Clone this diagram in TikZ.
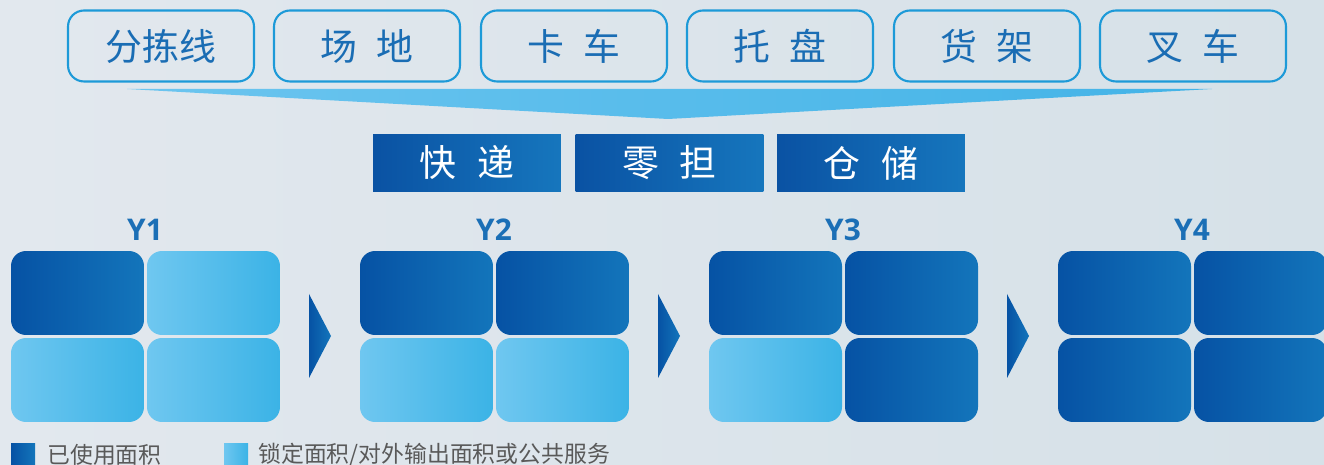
\documentclass[tikz,border=0pt]{standalone}
\usepackage{fontspec}
\newfontfamily\cjk{Noto Sans CJK SC}
\newfontfamily\ylabelfont{Open Sans}
\newcommand\topfont{\cjk\fontsize{21pt}{21pt}\selectfont\spaceskip=0.5em\relax}
\newcommand\midfont{\cjk\fontsize{21pt}{21pt}\selectfont\spaceskip=0.55em\relax}

\definecolor{bgA}{HTML}{E2E8EE}
\definecolor{bgB}{HTML}{D6E1E8}
\definecolor{topline}{HTML}{1D9AD8}
\definecolor{toptext}{HTML}{1A6DB4}
\definecolor{funnelA}{HTML}{6CC5EF}
\definecolor{funnelB}{HTML}{43B3E7}
\definecolor{midA}{HTML}{0A52A3}
\definecolor{midB}{HTML}{1676BD}
\definecolor{darkA}{HTML}{0652A4}
\definecolor{darkB}{HTML}{1375BB}
\definecolor{lightA}{HTML}{6FC7F0}
\definecolor{lightB}{HTML}{3BB3E6}
\definecolor{ylab}{HTML}{1B6FB6}
\definecolor{legendgray}{HTML}{595959}

\tikzset{
  topbox/.style={rectangle, rounded corners=0.32cm, draw=topline, line width=1.2pt,
    minimum width=3.72cm, minimum height=1.42cm, inner sep=0pt, text=toptext,
    font=\topfont},
  midbox/.style={rectangle, left color=midA, right color=midB, inner sep=0pt,
    minimum width=3.76cm, minimum height=1.16cm, text=white,
    font=\midfont},
  usedcell/.style={rectangle, rounded corners=0.3cm, left color=darkA, right color=darkB,
    minimum width=2.66cm, minimum height=1.68cm, inner sep=0pt},
  lockedcell/.style={rectangle, rounded corners=0.3cm, left color=lightA, right color=lightB,
    minimum width=2.66cm, minimum height=1.68cm, inner sep=0pt},
  ylabel/.style={text=ylab, inner sep=0pt, font=\ylabelfont\bfseries\fontsize{17pt}{17pt}\selectfont},
  legendtext/.style={anchor=west, text=legendgray, inner sep=0pt,
    font=\cjk\fontsize{13pt}{13pt}\selectfont},
}

\begin{document}
\begin{tikzpicture}[x=0.02cm, y=-0.02cm]
    \useasboundingbox (0,0) rectangle (1324,465);
    \shade[left color=bgA, right color=bgB] (0,0) rectangle (1324,465);

    % resources
    \node[topbox] (sorting)  at (161,46)  {分拣线};
    \node[topbox] (site)     at (367,46)  {场 地};
    \node[topbox] (truck)    at (574,46)  {卡 车};
    \node[topbox] (pallet)   at (780,46)  {托 盘};
    \node[topbox] (shelf)    at (987,46)  {货 架};
    \node[topbox] (forklift) at (1193,46) {叉 车};

    \shade[left color=funnelA, right color=funnelB] (127,89) -- (1212,89) -- (668,119) -- cycle;

    % business lines
    \node[midbox] (express) at (467,163)   {快 递};
    \node[midbox] (ltl)     at (669.5,163) {零 担};
    \node[midbox] (storage) at (871,163)   {仓 储};

    % Y1
    \node[ylabel] (y1) at (145,230) {Y1};
    \node[usedcell]   (c1a) at (77.5,293)  {};
    \node[lockedcell] (c1b) at (213.5,293) {};
    \node[lockedcell] (c1c) at (77.5,380)  {};
    \node[lockedcell] (c1d) at (213.5,380) {};
    \shade[left color=darkA, right color=darkB] (309,294) -- (331,336) -- (309,378) -- cycle;

    % Y2
    \node[ylabel] (y2) at (494,230) {Y2};
    \node[usedcell]   (c2a) at (426.5,293) {};
    \node[usedcell]   (c2b) at (562.5,293) {};
    \node[lockedcell] (c2c) at (426.5,380) {};
    \node[lockedcell] (c2d) at (562.5,380) {};
    \shade[left color=darkA, right color=darkB] (658,294) -- (680,336) -- (658,378) -- cycle;

    % Y3
    \node[ylabel] (y3) at (843,230) {Y3};
    \node[usedcell]   (c3a) at (775.5,293) {};
    \node[usedcell]   (c3b) at (911.5,293) {};
    \node[lockedcell] (c3c) at (775.5,380) {};
    \node[usedcell]   (c3d) at (911.5,380) {};
    \shade[left color=darkA, right color=darkB] (1007,294) -- (1029,336) -- (1007,378) -- cycle;

    % Y4
    \node[ylabel] (y4) at (1192,230) {Y4};
    \node[usedcell] (c4a) at (1124.5,293) {};
    \node[usedcell] (c4b) at (1260.5,293) {};
    \node[usedcell] (c4c) at (1124.5,380) {};
    \node[usedcell] (c4d) at (1260.5,380) {};

    % legend
    \shade[left color=darkA, right color=darkB] (11,443) rectangle (35,465);
    \node[legendtext] (usedkey) at (47,455) {已使用面积};
    \shade[left color=lightA, right color=lightB] (224,443) rectangle (248,465);
    \node[legendtext] (lockedkey) at (258,455) {锁定面积/对外输出面积或公共服务};
\end{tikzpicture}
\end{document}
